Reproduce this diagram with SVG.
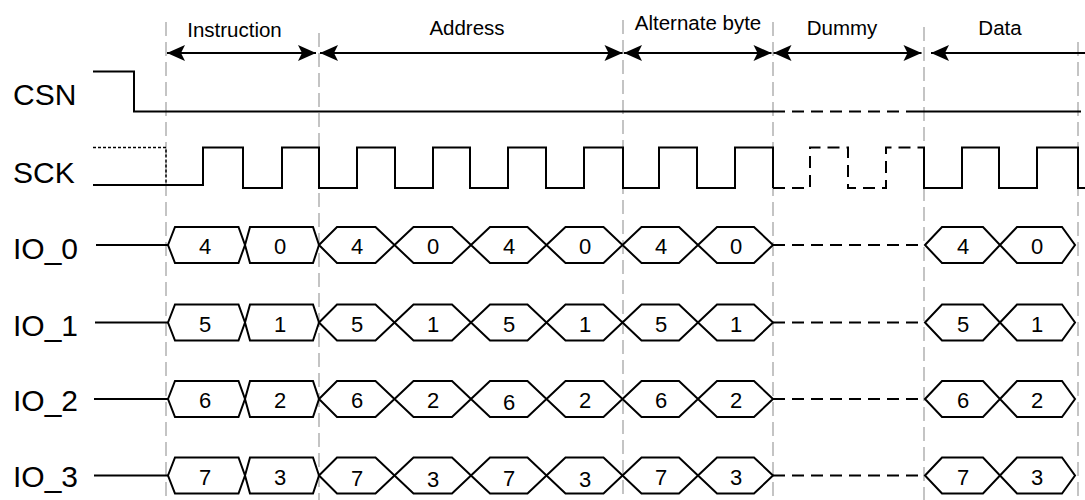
<svg xmlns="http://www.w3.org/2000/svg" width="1085" height="500" viewBox="0 0 1085 500">
<style>
.grid{stroke:#c4c4c4;stroke-width:2;stroke-dasharray:14 6;fill:none}
.w{stroke:#000;stroke-width:2;fill:none}
.wd{stroke:#000;stroke-width:2;fill:none;stroke-dasharray:12 7}
.dot{stroke:#000;stroke-width:1.5;fill:none;stroke-dasharray:3 2}
.hex{stroke:#000;stroke-width:2;fill:#fff;stroke-linejoin:miter}
.sig{font-family:"Liberation Sans",Arial,sans-serif;font-size:30px;fill:#000}
.hdr{font-family:"Liberation Sans",Arial,sans-serif;font-size:20.5px;fill:#000;text-anchor:middle}
.dig{font-family:"Liberation Sans",Arial,sans-serif;font-size:22px;fill:#000;text-anchor:middle}
.arr{stroke:#000;stroke-width:2;fill:none}
</style>
<defs>
<marker id="ah" viewBox="-20 -9 21 18" refX="0" refY="0" markerWidth="21" markerHeight="18" markerUnits="userSpaceOnUse" orient="auto-start-reverse">
<path d="M0,0 L-18,-8 L-14,0 L-18,8 Z" fill="#000"/>
</marker>
</defs>
<g id="grid">
<line class="grid" x1="166" y1="22" x2="166" y2="500"/>
<line class="grid" x1="319" y1="33" x2="319" y2="500"/>
<line class="grid" x1="623" y1="20" x2="623" y2="500"/>
<line class="grid" x1="773" y1="22" x2="773" y2="500"/>
<line class="grid" x1="924" y1="27" x2="924" y2="500"/>
<line class="grid" x1="1078" y1="42" x2="1078" y2="500"/>
</g>
<g id="phase-labels">
<text class="hdr" x="234.5" y="37">Instruction</text>
<text class="hdr" x="467" y="34.5">Address</text>
<text class="hdr" x="698" y="30">Alternate byte</text>
<text class="hdr" x="842" y="34.5">Dummy</text>
<text class="hdr" x="1000" y="34.5">Data</text>
</g>
<g id="connectors">
<line class="arr" x1="167" y1="53" x2="316" y2="53" marker-start="url(#ah)" marker-end="url(#ah)"/>
<line class="arr" x1="320" y1="53" x2="622.5" y2="53" marker-start="url(#ah)" marker-end="url(#ah)"/>
<line class="arr" x1="624" y1="53" x2="771.5" y2="53" marker-start="url(#ah)" marker-end="url(#ah)"/>
<line class="arr" x1="773.5" y1="53" x2="921.5" y2="53" marker-start="url(#ah)" marker-end="url(#ah)"/>
<line class="arr" x1="931" y1="53" x2="1085" y2="53" marker-start="url(#ah)"/>
</g>
<g id="csn">
<text class="sig" x="13" y="105">CSN</text>
<path class="w" d="M93,71.5 H134 V111.5 H773"/>
<path class="wd" d="M773,111.5 H918"/>
<path class="w" d="M918,111.5 H1081"/>
</g>
<g id="sck">
<text class="sig" x="13" y="182.5">SCK</text>
<path class="dot" d="M93,147.5 H166 V185"/>
<path class="w" d="M93,185 H203 V147.5 H243 V188 H282 V147.5 H319 V188 H357 V147.5 H395 V188 H433 V147.5 H470 V188 H508 V147.5 H546 V188 H584 V147.5 H623 V188 H659 V147.5 H697 V188 H735 V147.5 H773 V188"/>
<path class="wd" d="M773,188 H810 V147.5 H848 V188 H886 V147.5 H918"/>
<path class="w" d="M918,147.5 H924 V188 H962 V147.5 H999 V188 H1037 V147.5 H1078 V188 H1085"/>
</g>
<g id="io0">
<text class="sig" x="13" y="259">IO_0</text>
<line class="w" x1="96" y1="245" x2="168" y2="245"/>
<polygon class="hex" points="168,245 175,227 238.5,227 245,245 238.5,263 175,263"/>
<polygon class="hex" points="245,245 250,227 313,227 319,245 313,263 250,263"/>
<polygon class="hex" points="319,245 337,227 375.5,227 394.5,245 375.5,263 337,263"/>
<polygon class="hex" points="394.5,245 413.5,227 452,227 471,245 452,263 413.5,263"/>
<polygon class="hex" points="471,245 490,227 527.5,227 546.5,245 527.5,263 490,263"/>
<polygon class="hex" points="546.5,245 565.5,227 603.5,227 622.5,245 603.5,263 565.5,263"/>
<polygon class="hex" points="622.5,245 641.5,227 679,227 698,245 679,263 641.5,263"/>
<polygon class="hex" points="698,245 717,227 754,227 773,245 754,263 717,263"/>
<path class="wd" d="M773,245 H925"/>
<polygon class="hex" points="925,245 942,227 983,227 1000,245 983,263 942,263"/>
<polygon class="hex" points="1000,245 1017,227 1062,227 1075,245 1062,263 1017,263"/>
<text class="dig" x="205" y="254">4</text>
<text class="dig" x="280" y="254">0</text>
<text class="dig" x="357" y="254">4</text>
<text class="dig" x="433" y="254">0</text>
<text class="dig" x="509" y="254">4</text>
<text class="dig" x="585" y="254">0</text>
<text class="dig" x="661" y="254">4</text>
<text class="dig" x="736" y="254">0</text>
<text class="dig" x="963" y="254">4</text>
<text class="dig" x="1037" y="254">0</text>
</g>
<g id="io1">
<text class="sig" x="13" y="336">IO_1</text>
<line class="w" x1="95" y1="322.5" x2="168" y2="322.5"/>
<polygon class="hex" points="168,322.5 175,304.5 238.5,304.5 245,322.5 238.5,340.5 175,340.5"/>
<polygon class="hex" points="245,322.5 250,304.5 313,304.5 319,322.5 313,340.5 250,340.5"/>
<polygon class="hex" points="319,322.5 337,304.5 375.5,304.5 394.5,322.5 375.5,340.5 337,340.5"/>
<polygon class="hex" points="394.5,322.5 413.5,304.5 452,304.5 471,322.5 452,340.5 413.5,340.5"/>
<polygon class="hex" points="471,322.5 490,304.5 527.5,304.5 546.5,322.5 527.5,340.5 490,340.5"/>
<polygon class="hex" points="546.5,322.5 565.5,304.5 603.5,304.5 622.5,322.5 603.5,340.5 565.5,340.5"/>
<polygon class="hex" points="622.5,322.5 641.5,304.5 679,304.5 698,322.5 679,340.5 641.5,340.5"/>
<polygon class="hex" points="698,322.5 717,304.5 754,304.5 773,322.5 754,340.5 717,340.5"/>
<path class="wd" d="M773,322.5 H925"/>
<polygon class="hex" points="925,322.5 942,304.5 983,304.5 1000,322.5 983,340.5 942,340.5"/>
<polygon class="hex" points="1000,322.5 1017,304.5 1062,304.5 1075,322.5 1062,340.5 1017,340.5"/>
<text class="dig" x="205" y="331.5">5</text>
<text class="dig" x="280" y="331.5">1</text>
<text class="dig" x="357" y="331.5">5</text>
<text class="dig" x="433" y="331.5">1</text>
<text class="dig" x="509" y="331.5">5</text>
<text class="dig" x="585" y="331.5">1</text>
<text class="dig" x="661" y="331.5">5</text>
<text class="dig" x="736" y="331.5">1</text>
<text class="dig" x="963" y="331.5">5</text>
<text class="dig" x="1037" y="331.5">1</text>
</g>
<g id="io2">
<text class="sig" x="13" y="411">IO_2</text>
<line class="w" x1="94" y1="399" x2="168" y2="399"/>
<polygon class="hex" points="168,399 175,381 238.5,381 245,399 238.5,417 175,417"/>
<polygon class="hex" points="245,399 250,381 313,381 319,399 313,417 250,417"/>
<polygon class="hex" points="319,399 337,381 375.5,381 394.5,399 375.5,417 337,417"/>
<polygon class="hex" points="394.5,399 413.5,381 452,381 471,399 452,417 413.5,417"/>
<polygon class="hex" points="471,399 490,381 527.5,381 546.5,399 527.5,417 490,417"/>
<polygon class="hex" points="546.5,399 565.5,381 603.5,381 622.5,399 603.5,417 565.5,417"/>
<polygon class="hex" points="622.5,399 641.5,381 679,381 698,399 679,417 641.5,417"/>
<polygon class="hex" points="698,399 717,381 754,381 773,399 754,417 717,417"/>
<path class="wd" d="M773,399 H925"/>
<polygon class="hex" points="925,399 942,381 983,381 1000,399 983,417 942,417"/>
<polygon class="hex" points="1000,399 1017,381 1062,381 1075,399 1062,417 1017,417"/>
<text class="dig" x="205" y="408">6</text>
<text class="dig" x="280" y="408">2</text>
<text class="dig" x="357" y="408">6</text>
<text class="dig" x="433" y="408">2</text>
<text class="dig" x="509" y="410">6</text>
<text class="dig" x="585" y="408">2</text>
<text class="dig" x="661" y="408">6</text>
<text class="dig" x="736" y="408">2</text>
<text class="dig" x="963" y="408">6</text>
<text class="dig" x="1037" y="408">2</text>
</g>
<g id="io3">
<text class="sig" x="13" y="487">IO_3</text>
<line class="w" x1="94" y1="475.5" x2="168" y2="475.5"/>
<polygon class="hex" points="168,475.5 175,457.5 238.5,457.5 245,475.5 238.5,493.5 175,493.5"/>
<polygon class="hex" points="245,475.5 250,457.5 313,457.5 319,475.5 313,493.5 250,493.5"/>
<polygon class="hex" points="319,475.5 337,457.5 375.5,457.5 394.5,475.5 375.5,493.5 337,493.5"/>
<polygon class="hex" points="394.5,475.5 413.5,457.5 452,457.5 471,475.5 452,493.5 413.5,493.5"/>
<polygon class="hex" points="471,475.5 490,457.5 527.5,457.5 546.5,475.5 527.5,493.5 490,493.5"/>
<polygon class="hex" points="546.5,475.5 565.5,457.5 603.5,457.5 622.5,475.5 603.5,493.5 565.5,493.5"/>
<polygon class="hex" points="622.5,475.5 641.5,457.5 679,457.5 698,475.5 679,493.5 641.5,493.5"/>
<polygon class="hex" points="698,475.5 717,457.5 754,457.5 773,475.5 754,493.5 717,493.5"/>
<path class="wd" d="M773,475.5 H925"/>
<polygon class="hex" points="925,475.5 942,457.5 983,457.5 1000,475.5 983,493.5 942,493.5"/>
<polygon class="hex" points="1000,475.5 1017,457.5 1062,457.5 1075,475.5 1062,493.5 1017,493.5"/>
<text class="dig" x="205" y="484.5">7</text>
<text class="dig" x="280" y="484.5">3</text>
<text class="dig" x="357" y="486">7</text>
<text class="dig" x="433" y="487">3</text>
<text class="dig" x="509" y="486">7</text>
<text class="dig" x="585" y="487">3</text>
<text class="dig" x="661" y="484.5">7</text>
<text class="dig" x="736" y="484.5">3</text>
<text class="dig" x="963" y="484.5">7</text>
<text class="dig" x="1037" y="484.5">3</text>
</g>
</svg>
